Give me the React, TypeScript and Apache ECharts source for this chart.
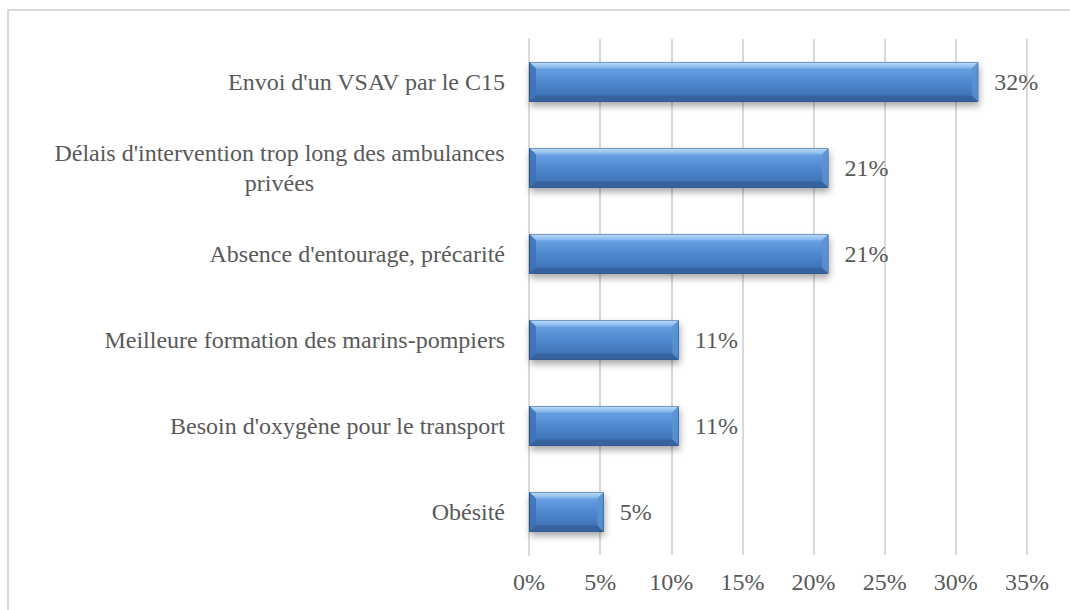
import React, { useEffect, useRef } from "react";
import * as echarts from "echarts";

const categories = [
  "Envoi d'un VSAV par le C15",
  "Délais d'intervention trop long des ambulances\nprivées",
  "Absence d'entourage, précarité",
  "Meilleure formation des marins-pompiers",
  "Besoin d'oxygène pour le transport",
  "Obésité",
];
const values = [0.3158, 0.2105, 0.2105, 0.1053, 0.1053, 0.0526];
const xTicks = { min: 0, max: 0.35, interval: 0.05 };

const FONT = "'Liberation Serif', 'DejaVu Serif', serif";
const FS = 24;
const TEXT = "#595959";
const GRID = "#d9d9d9";
const BAR_W = 40;
const BEVEL = 6;

function measure(text: string): number {
  const c = document.createElement("canvas");
  const ctx = c.getContext("2d");
  if (!ctx) return 460;
  ctx.font = `${FS}px 'Liberation Serif'`;
  return Math.ceil(ctx.measureText(text).width);
}

export default function App() {
  const ref = useRef<HTMLDivElement>(null);
  useEffect(() => {
    if (!ref.current) return;
    const chart = echarts.init(ref.current, undefined, { renderer: "svg" });
    const fmtPct = (v: number) => Math.round(v * 100) + "%";
    const multi = categories.find((c) => c.includes("\n")) || "";
    const boxW = Math.max(...multi.split("\n").map(measure), 10);
    chart.setOption({
      animation: false,
      backgroundColor: "#ffffff",
      textStyle: { fontFamily: FONT },
      graphic: [
        {
          type: "rect",
          shape: { x: 8, y: 10, width: 1100, height: 700 },
          style: { fill: "none", stroke: GRID, lineWidth: 2 },
          silent: true,
          z: -10,
        },
      ],
      grid: { left: 529, right: 43, top: 39, bottom: 55, containLabel: false },
      xAxis: {
        type: "value",
        min: xTicks.min,
        max: xTicks.max,
        interval: xTicks.interval,
        axisLine: { show: false },
        axisTick: { show: false },
        splitLine: { show: true, lineStyle: { color: GRID, width: 2 } },
        axisLabel: {
          formatter: fmtPct,
          color: TEXT,
          fontSize: FS,
          fontFamily: FONT,
          margin: 15,
        },
      },
      yAxis: {
        type: "category",
        inverse: true,
        data: categories,
        axisLine: { show: true, lineStyle: { color: GRID, width: 2 } },
        axisTick: { show: false },
        axisLabel: {
          color: TEXT,
          fontSize: FS,
          fontFamily: FONT,
          margin: 24,
          lineHeight: 30,
          formatter: (v: string) =>
            v.includes("\n")
              ? v
                  .split("\n")
                  .map((l) => "{c|" + l + "}")
                  .join("\n")
              : v,
          rich: {
            c: {
              width: boxW,
              align: "center",
              color: TEXT,
              fontSize: FS,
              fontFamily: FONT,
              lineHeight: 30,
            },
          },
        },
      },
      series: [
        {
          type: "bar",
          data: values,
          barWidth: BAR_W,
          itemStyle: {
            color: new echarts.graphic.LinearGradient(0, 0, 0, 1, [
              { offset: 0, color: "#9cc7f2" },
              { offset: 0.12, color: "#6aa2e2" },
              { offset: 0.5, color: "#4f88cf" },
              { offset: 0.88, color: "#3f73b5" },
              { offset: 1, color: "#2e5688" },
            ]),
            borderColor: "#2c5284",
            borderWidth: 1,
            shadowBlur: 7,
            shadowColor: "rgba(0,0,0,0.35)",
            shadowOffsetY: 4,
            shadowOffsetX: 1,
          },
          label: {
            show: true,
            position: "right",
            distance: 16,
            formatter: (p: any) => fmtPct(p.value),
            color: TEXT,
            fontSize: FS,
            fontFamily: FONT,
          },
          z: 2,
        },
        {
          type: "custom",
          data: values.map((v, i) => [v, i]),
          encode: { x: 0, y: 1 },
          silent: true,
          z: 3,
          renderItem: (params: any, api: any) => {
            const s = api.coord([0, api.value(1)]);
            const e = api.coord([api.value(0), api.value(1)]);
            const x0 = s[0] + 1;
            const x1 = e[0] - 0.5;
            const y0 = s[1] - BAR_W / 2 + 0.5;
            const y1 = s[1] + BAR_W / 2 - 0.5;
            const b = BEVEL;
            return {
              type: "group",
              children: [
                {
                  type: "polygon",
                  shape: { points: [[x0, y0], [x1, y0], [x1 - b, y0 + b], [x0 + b, y0 + b]] },
                  style: {
                    fill: new echarts.graphic.LinearGradient(0, 0, 0, 1, [
                      { offset: 0, color: "#b9dcfb" },
                      { offset: 1, color: "#7fb2ea" },
                    ]),
                  },
                },
                {
                  type: "polygon",
                  shape: { points: [[x0, y1], [x1, y1], [x1 - b, y1 - b], [x0 + b, y1 - b]] },
                  style: { fill: "#36639e" },
                },
                {
                  type: "polygon",
                  shape: { points: [[x0, y0], [x0 + b, y0 + b], [x0 + b, y1 - b], [x0, y1]] },
                  style: { fill: "#3d72b6", opacity: 0.85 },
                },
                {
                  type: "polygon",
                  shape: { points: [[x1, y0], [x1 - b, y0 + b], [x1 - b, y1 - b], [x1, y1]] },
                  style: { fill: "#5a92d6", opacity: 0.8 },
                },
              ],
            };
          },
        },
      ],
    });
    return () => chart.dispose();
  }, []);
  return (
    <div
      ref={ref}
      style={{ position: "fixed", left: 0, top: 0, width: 1070, height: 610 }}
    />
  );
}
